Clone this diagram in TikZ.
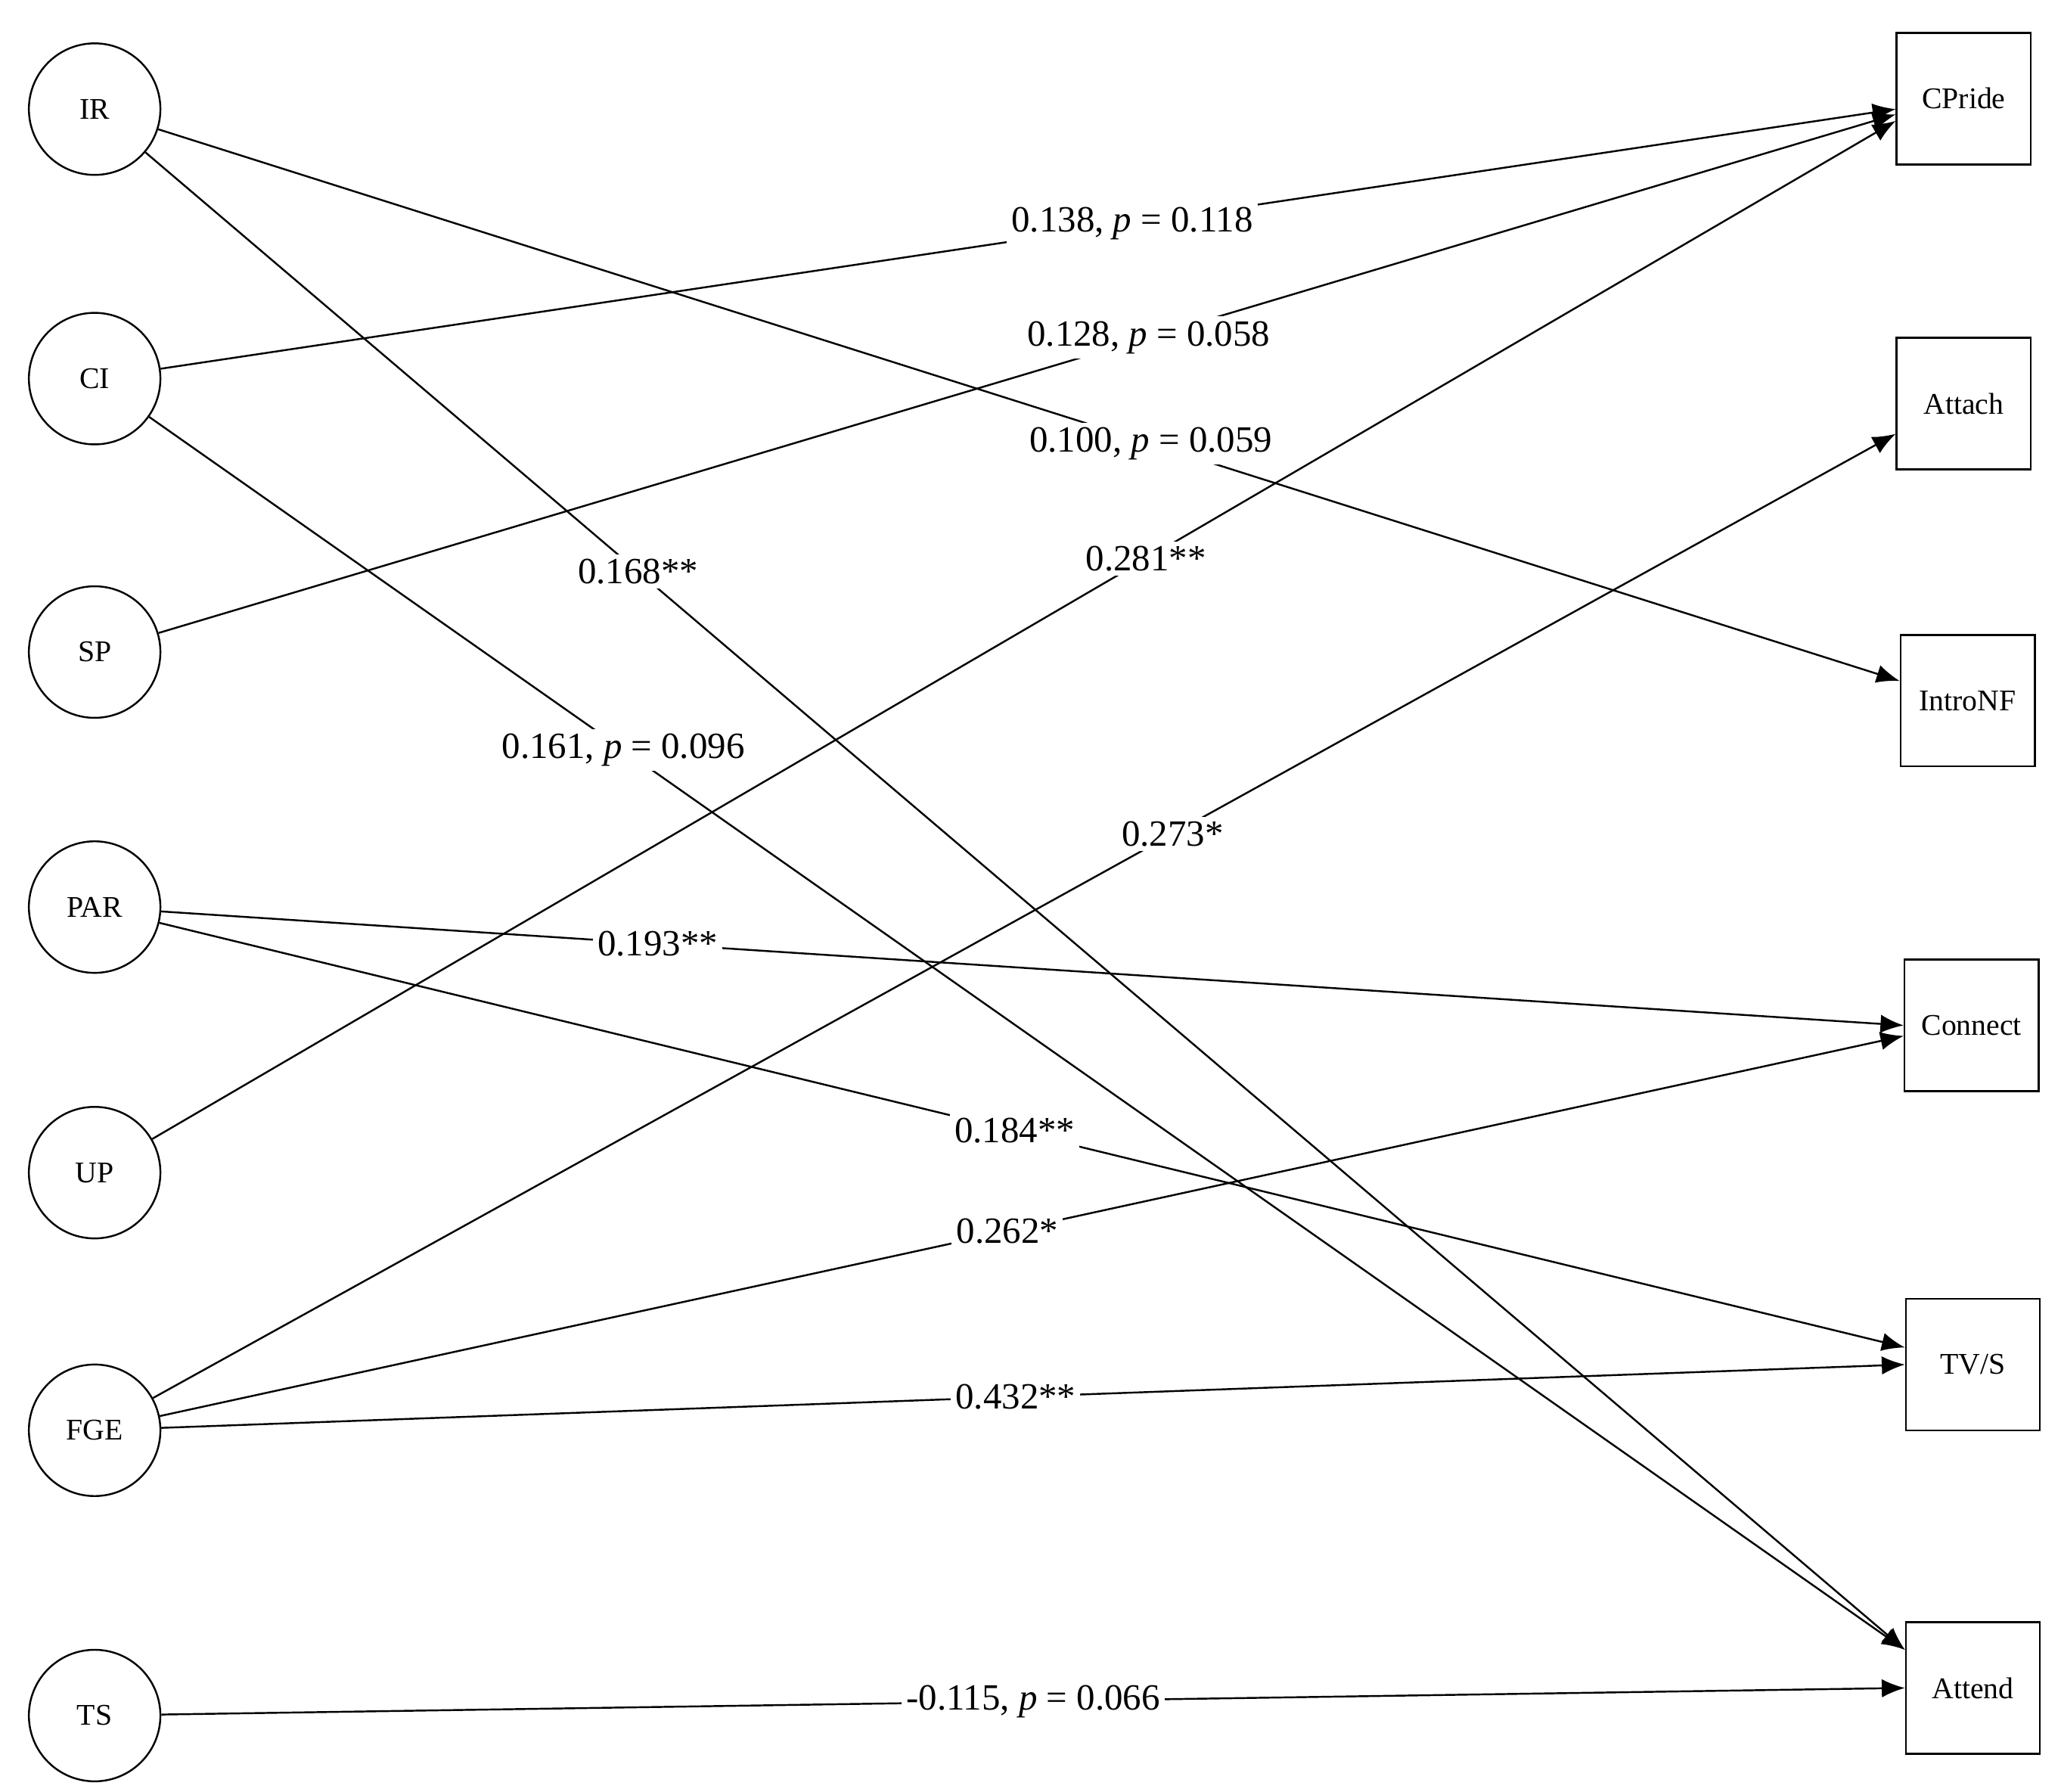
\documentclass[tikz,border=0pt]{standalone}
\usepackage{fontspec}
\setmainfont{Liberation Serif}
\usetikzlibrary{arrows.meta}
\begin{document}
\begin{tikzpicture}[x=0.01cm,y=-0.01cm,
	lat/.style={circle,draw,minimum size=1cm,inner sep=0pt,font=\fontsize{6.5}{7}\selectfont},
	obs/.style={rectangle,draw,minimum width=1.02cm,minimum height=1cm,inner sep=0pt,font=\fontsize{6.5}{7}\selectfont},
	path/.style={-{Latex[length=5pt,width=4pt]},thin},
	lbl/.style={fill=white,inner sep=1pt,font=\fontsize{8}{9}\selectfont}]
	\useasboundingbox (0,0) rectangle (1568,1363);
	% predictors
	\foreach \n/\y in {IR/83, CI/288, SP/496, PAR/690, UP/892, FGE/1088, TS/1305}{
		\node[lat] (\n) at (72,\y) {\n};
	}
	% outcomes
	\foreach \n/\x/\y/\t in {CPride/1494/75/CPride, Attach/1494/307/Attach, IntroNF/1497/533/IntroNF, Connect/1500/780/Connect, TVS/1501/1038/{TV/S}, Attend/1501/1284/Attend}{
		\node[obs] (\n) at (\x,\y) {\t};
	}
	
	\draw[path] (IR) -- node[lbl,pos=0.57]{0.100, \textit{p} = 0.059} ([yshift=0.15cm]IntroNF.west);
	\draw[path] (IR) -- node[lbl,pos=0.28]{0.168**} ([yshift=0.29cm]Attend.west);
	\draw[path] (CI) -- node[lbl,pos=0.56]{0.138, \textit{p} = 0.118} ([yshift=-0.08cm]CPride.west);
	\draw[path] (CI) -- node[lbl,pos=0.27]{0.161, \textit{p} = 0.096} ([yshift=0.29cm]Attend.west);
	\draw[path] (SP) -- node[lbl,pos=0.57]{0.128, \textit{p} = 0.058} ([yshift=-0.12cm]CPride.west);
	\draw[path] (UP) -- node[lbl,pos=0.57]{0.281**} ([yshift=-0.17cm]CPride.west);
	\draw[path] (FGE) -- node[lbl,pos=0.585]{0.273*} ([yshift=-0.23cm]Attach.west);
	\draw[path] (PAR) -- node[lbl,pos=0.285]{0.193**} (Connect.west);
	\draw[path] (PAR) -- node[lbl,pos=0.49]{0.184**} ([yshift=0.13cm]TVS.west);
	\draw[path] (FGE) -- node[lbl,pos=0.486]{0.262*} ([yshift=-0.08cm]Connect.west);
	\draw[path] (FGE) -- node[lbl,pos=0.49]{0.432**} (TVS.west);
	\draw[path] (TS) -- node[lbl,pos=0.5]{-0.115, \textit{p} = 0.066} (Attend.west);
\end{tikzpicture}
\end{document}
